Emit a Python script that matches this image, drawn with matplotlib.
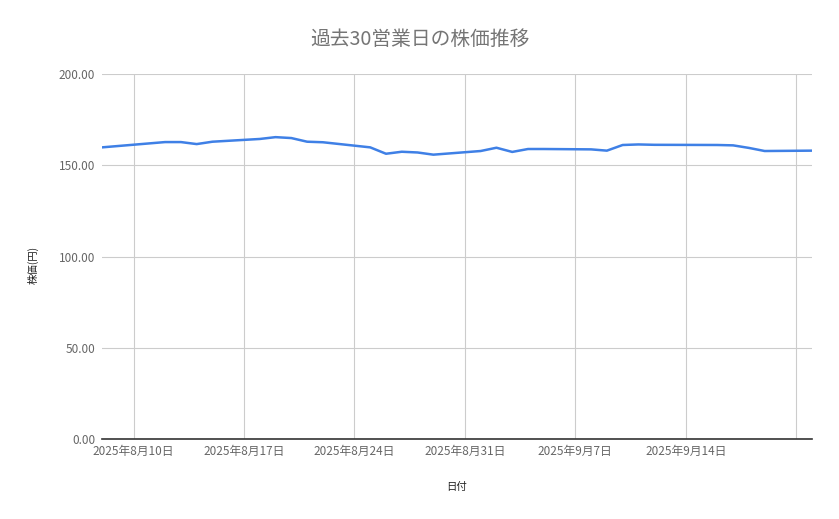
import matplotlib
matplotlib.use("Agg")
import matplotlib.pyplot as plt
import numpy as np
import datetime as dt

plt.rcParams['font.family'] = ['Noto Sans CJK JP', 'DejaVu Sans']

# 30 business days (Aug 11 and Sep 15 are holidays)
dates = ["2025-08-08", "2025-08-12", "2025-08-13", "2025-08-14", "2025-08-15",
         "2025-08-18", "2025-08-19", "2025-08-20", "2025-08-21", "2025-08-22",
         "2025-08-25", "2025-08-26", "2025-08-27", "2025-08-28", "2025-08-29",
         "2025-09-01", "2025-09-02", "2025-09-03", "2025-09-04", "2025-09-05",
         "2025-09-08", "2025-09-09", "2025-09-10", "2025-09-11", "2025-09-12",
         "2025-09-16", "2025-09-17", "2025-09-18", "2025-09-19", "2025-09-22"]
prices = [159.8, 162.7, 162.7, 161.6, 162.9,
          164.4, 165.4, 164.9, 162.9, 162.6,
          159.8, 156.3, 157.4, 157.0, 155.8,
          157.8, 159.6, 157.3, 158.9, 158.9,
          158.7, 158.0, 161.1, 161.4, 161.2,
          161.1, 160.9, 159.5, 157.8, 158.0]

tick_dates = ["2025-08-10", "2025-08-17", "2025-08-24", "2025-08-31",
              "2025-09-07", "2025-09-14", "2025-09-21"]
tick_labels = ["2025年8月10日", "2025年8月17日", "2025年8月24日", "2025年8月31日",
               "2025年9月7日", "2025年9月14日", ""]

y_ticks = [0, 50, 100, 150, 200]

x = [dt.date.fromisoformat(d) for d in dates]
xt = [dt.date.fromisoformat(d) for d in tick_dates]

fig = plt.figure(figsize=(8.39, 5.19), dpi=100)
ax = fig.add_axes([102/839, 80/519, 710/839, 365/519])

ax.plot(x, prices, color="#3f80e6", linewidth=1.8, solid_joinstyle="round")

ax.set_xlim(x[0], x[-1])
ax.set_ylim(0, 200)
ax.set_yticks(y_ticks)
ax.set_yticklabels([f"{v:.2f}" for v in y_ticks])
ax.set_xticks(xt)
ax.set_xticklabels(tick_labels)

ax.grid(True, color="#cccccc", linewidth=0.8)
ax.set_axisbelow(True)
for s in ["top", "right", "left"]:
    ax.spines[s].set_visible(False)
ax.spines["bottom"].set_color("#333333")
ax.spines["bottom"].set_linewidth(1.2)
ax.spines["bottom"].set_zorder(3)

ax.tick_params(axis="both", length=0, labelsize=8.5, labelcolor="#666666")
ax.tick_params(axis="x", pad=4)
ax.tick_params(axis="y", pad=5)

fig.text(420/839, 1 - 39/519, "過去30営業日の株価推移", ha="center", va="center",
         fontsize=14.2, color="#757575")
fig.text(33/839, 1 - 265/519, "株価(円)", ha="center", va="center",
         rotation=90, fontsize=7.5, color="#222222")
fig.text(457/839, 1 - 487/519, "日付", ha="center", va="center",
         fontsize=7.5, color="#222222")

fig.savefig("out.png", dpi=100)
